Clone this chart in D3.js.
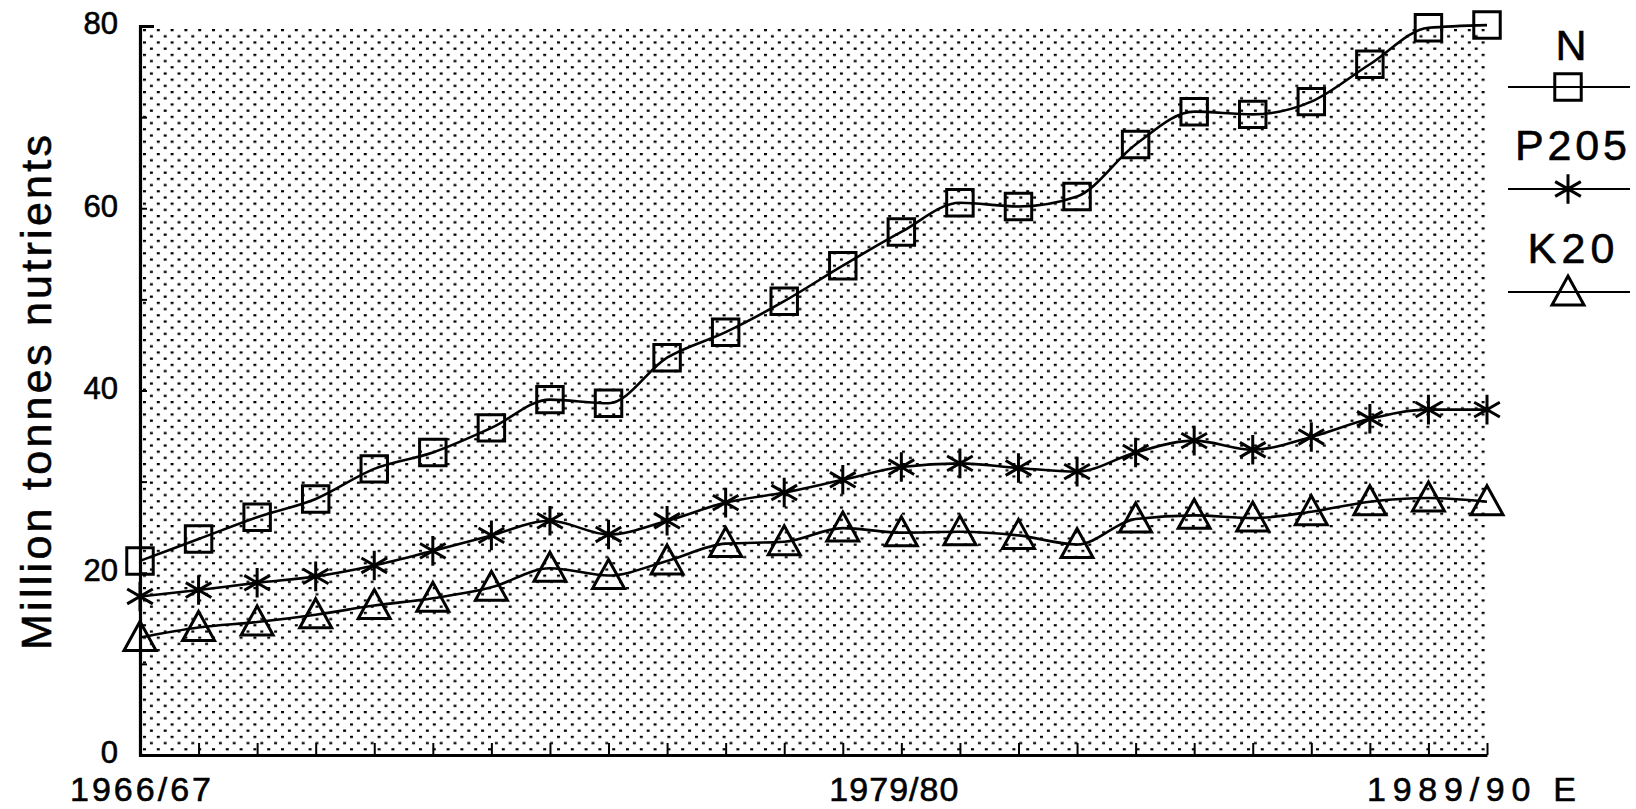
<!DOCTYPE html>
<html>
<head>
<meta charset="utf-8">
<script src="https://cdn.jsdelivr.net/npm/d3@7"></script>
<style>
body { margin: 0; background: #fff; }
text { font-family: "Liberation Sans", Arial, sans-serif; fill: #000; stroke: #000; stroke-width: 0.6px; }
</style>
</head>
<body>
<div id="chart"></div>
<script>
var years = [1966, 1967, 1968, 1969, 1970, 1971, 1972, 1973, 1974, 1975, 1976, 1977,
	1978, 1979, 1980, 1981, 1982, 1983, 1984, 1985, 1986, 1987, 1988, 1989];

// million tonnes of nutrients
var nValues = [21.3, 23.7, 26.1, 28.1, 31.4, 33.2, 35.9, 39.0, 38.6, 43.6, 46.4, 49.8,
	53.7, 57.4, 60.6, 60.2, 61.3, 67.0, 70.6, 70.3, 71.7, 75.8, 79.8, 80.1];
var p2o5Values = [17.4, 18.1, 18.9, 19.6, 20.8, 22.4, 24.1, 25.7, 24.2, 25.7, 27.7, 28.8,
	30.2, 31.6, 32.0, 31.5, 31.1, 33.2, 34.5, 33.5, 34.9, 36.9, 37.9, 37.9];
var k2oValues = [12.9, 14.0, 14.6, 15.4, 16.4, 17.2, 18.4, 20.5, 19.7, 21.3, 23.2, 23.4,
	24.9, 24.4, 24.5, 24.1, 23.1, 25.9, 26.3, 26.0, 26.7, 27.8, 28.2, 27.8];

var seriesNames = ["N", "P205", "K20"];
var seriesMarkers = ["square", "asterisk", "triangle"];

var yTicks = [0, 10, 20, 30, 40, 50, 60, 70, 80];
var yLabelTicks = [0, 20, 40, 60, 80];
var xLabelYears = [1966, 1979, 1989];
var xLabelTexts = ["1966/67", "1979/80", "1989/90 E"];

var yTitle = "Million tonnes nutrients";

var width = 1636,
	height = 809,
	plot = {left: 140, right: 1487, top: 26, bottom: 755};

var svg = d3.select("#chart")
	.append("svg")
	.attr("width", width)
	.attr("height", height);

var x = d3.scaleLinear().domain([years[0], years[years.length - 1]]).range([plot.left, plot.right]);
var y = d3.scaleLinear().domain([0, 80]).range([plot.bottom, plot.top]);

// halftone dot background
var defs = svg.append("defs");
var pattern = defs.append("pattern")
	.attr("id", "dots")
	.attr("patternUnits", "userSpaceOnUse")
	.attr("x", plot.left + 3)
	.attr("y", plot.top + 3)
	.attr("width", 13.8)
	.attr("height", 12.4);
pattern.append("rect").attr("x", 0).attr("y", 0).attr("width", 3).attr("height", 2.2).attr("fill", "#000");
pattern.append("rect").attr("x", 6.9).attr("y", 6.2).attr("width", 3).attr("height", 2.2).attr("fill", "#000");

svg.append("rect")
	.attr("x", plot.left)
	.attr("y", plot.top)
	.attr("width", plot.right - plot.left)
	.attr("height", plot.bottom - plot.top)
	.attr("fill", "url(#dots)");

// axes
var yAxis = d3.axisLeft(y)
	.tickValues(yTicks)
	.tickSizeInner(-7)
	.tickSizeOuter(-14)
	.tickPadding(22)
	.tickFormat(function(d) { return yLabelTicks.indexOf(d) >= 0 ? d : ""; });

var xAxis = d3.axisBottom(x)
	.tickValues(years)
	.tickSizeInner(-12)
	.tickSizeOuter(0)
	.tickPadding(22)
	.tickFormat(function(d) {
		var i = xLabelYears.indexOf(d);
		return i >= 0 ? xLabelTexts[i] : "";
	});

var gy = svg.append("g")
	.attr("transform", "translate(" + plot.left + ",0)")
	.call(yAxis);

var gx = svg.append("g")
	.attr("transform", "translate(0," + plot.bottom + ")")
	.call(xAxis);

[gx, gy].forEach(function(g) {
	g.select(".domain").attr("stroke", "#000").attr("stroke-width", 3.2);
	g.selectAll(".tick line").attr("stroke", "#000").attr("stroke-width", 2);
	g.selectAll(".tick text").attr("font-family", "Liberation Sans, Arial, sans-serif").attr("fill", "#000");
});

gy.selectAll(".tick text").attr("font-size", 31).attr("dy", "0.25em");

var xLabelWidths = [141, 129, 209];
var xLabelShift = [0, -8, -16];
gx.selectAll(".tick text")
	.attr("font-size", 34)
	.each(function(d) {
		var i = xLabelYears.indexOf(d);
		if (i >= 0) {
			d3.select(this)
				.attr("dx", xLabelShift[i])
				.attr("textLength", xLabelWidths[i])
				.attr("lengthAdjust", "spacing");
		}
	});

svg.append("text")
	.attr("transform", "translate(51," + ((plot.top + plot.bottom) / 2 + 2) + ") rotate(-90)")
	.attr("text-anchor", "middle")
	.attr("font-size", 43)
	.attr("textLength", 515)
	.attr("lengthAdjust", "spacing")
	.text(yTitle);

// markers
function markerPath(type) {
	if (type === "square") return d3.symbol(d3.symbolSquare, 700)();
	if (type === "asterisk") return d3.symbol(d3.symbolAsterisk, 620)();
	return "M0,-16L16,13L-16,13Z";
}

var line = d3.line()
	.x(function(d, i) { return x(years[i]); })
	.y(function(d) { return y(d); })
	.curve(d3.curveMonotoneX);

var allSeries = [nValues, p2o5Values, k2oValues];

allSeries.forEach(function(values, s) {
	svg.append("path")
		.datum(values)
		.attr("d", line)
		.attr("fill", "none")
		.attr("stroke", "#000")
		.attr("stroke-width", 2.6);

	svg.append("g")
		.selectAll("path")
		.data(values)
		.enter()
		.append("path")
		.attr("transform", function(d, i) { return "translate(" + x(years[i]) + "," + y(d) + ")"; })
		.attr("d", markerPath(seriesMarkers[s]))
		.attr("fill", "none")
		.attr("stroke", "#000")
		.attr("stroke-width", 3);
});

// legend
var legendTextY = [60, 160, 263],
	legendLineY = [87, 189, 292],
	legendTextLength = [null, 112, 87];

seriesNames.forEach(function(name, s) {
	var t = svg.append("text")
		.attr("x", 1571)
		.attr("y", legendTextY[s])
		.attr("text-anchor", "middle")
		.attr("font-size", 43)
		.text(name);
	if (legendTextLength[s]) t.attr("textLength", legendTextLength[s]).attr("lengthAdjust", "spacing");

	svg.append("line")
		.attr("x1", 1508)
		.attr("x2", 1630)
		.attr("y1", legendLineY[s])
		.attr("y2", legendLineY[s])
		.attr("stroke", "#000")
		.attr("stroke-width", 2);

	svg.append("path")
		.attr("transform", "translate(1568," + legendLineY[s] + ")")
		.attr("d", markerPath(seriesMarkers[s]))
		.attr("fill", "none")
		.attr("stroke", "#000")
		.attr("stroke-width", 3);
});
</script>
</body>
</html>
